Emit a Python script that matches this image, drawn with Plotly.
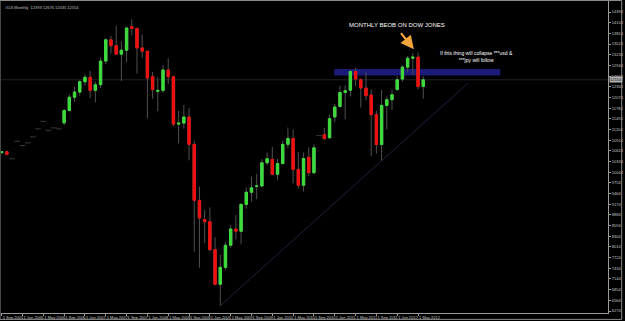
import pandas as pd
import plotly.graph_objects as go

# ---- data (Dow Jones monthly) ----
months = [p.strftime("%Y-%m") for p in pd.period_range("2005-09", "2012-06", freq="M")]

opens = [10575, 10600, 10408, 10884, 10768, 10841, 11003, 11220, 11425, 11182,
         11247, 11220, 11385, 11720, 12081, 12221, 12500, 12622, 12268, 12420,
         13062, 13640, 13480, 13250, 13358, 14000, 13950, 13420, 13330, 12644,
         12240, 12266, 12820, 12638, 11350, 11378, 11544, 10800, 9280, 8760,
         8700, 7940, 7000, 7460, 8060, 8500, 8440, 9170, 9500, 9660,
         9670, 10300, 10390, 9990, 10280, 10800, 10960, 10120, 9690, 10450,
         10030, 11038, 11065, 10980, 11545, 11830, 12210, 12270, 12779, 12554,
         12330, 12140, 11607, 10795, 11858, 12013, 12290, 12573, 12897, 13141,
         13170, 12375]
highs = [10620, 10630, 10408, 10884, 10768, 10841, 11003, 11220, 11425, 11182,
         11247, 11220, 11760, 12160, 12361, 12550, 12700, 12795, 12500, 13162,
         13680, 13750, 14022, 13600, 14000, 14198, 13960, 13780, 13340, 12767,
         12622, 12950, 13136, 12660, 11713, 11867, 11790, 10900, 9654, 9026,
         9088, 8280, 7800, 8150, 8600, 8880, 9200, 9630, 9920, 10000,
         10400, 10580, 10730, 10400, 10900, 11258, 11205, 10595, 10580, 10720,
         10800, 11038, 11250, 11600, 11900, 12390, 12400, 12830, 12876, 12600,
         12753, 12290, 11720, 12280, 12100, 12290, 12650, 12950, 13200, 13277,
         13300, 12650]
lows = [10540, 10500, 10408, 10884, 10768, 10841, 11003, 11220, 11425, 11182,
        11247, 11220, 11320, 11690, 11956, 12120, 12400, 12050, 11940, 12330,
        12980, 13266, 13230, 12518, 13029, 13760, 12725, 13150, 11500, 12035,
        11700, 12200, 12442, 11288, 10827, 11221, 10365, 7882, 7449, 8118,
        7900, 6970, 6420, 7400, 7990, 8220, 8090, 9050, 9250, 9310,
        9640, 10230, 9950, 9835, 10250, 10700, 9740, 9600, 9520, 9940,
        9990, 11038, 10930, 10950, 11400, 11800, 11480, 12100, 12380, 11800,
        12000, 10480, 10550, 10360, 11200, 11735, 12250, 12500, 12750, 12690,
        12300, 12035]
closes = [10600, 10530, 10408, 10884, 10768, 10841, 11003, 11220, 11425, 11182,
          11247, 11220, 11720, 12081, 12221, 12500, 12622, 12268, 12420, 13062,
          13640, 13480, 13250, 13358, 13960, 13950, 13420, 13330, 12600, 12284,
          12266, 12820, 12638, 11350, 11378, 11544, 10800, 9280, 8800, 8700,
          7940, 7000, 7460, 8060, 8500, 8440, 9170, 9500, 9620, 9670,
          10300, 10410, 9990, 10280, 10800, 10960, 10120, 9690, 10415, 10030,
          10705, 11038, 10957, 11498, 11815, 12210, 12256, 12779, 12573, 12330,
          12121, 11607, 10795, 11858, 12013, 12148, 12554, 12897, 13141, 13170,
          12375, 12554]

y_ticks = [6274 + 290 * k for k in range(29)]
x_tick_idx = list(range(0, len(months), 4))
x_tick_labels = [pd.Period(months[i]).strftime("1 %b %Y") for i in x_tick_idx]

current_price = 12554
zone_low, zone_high = 12671, 12844
zone_x = [63.9, 95.8]
trend_x = [42, 89.7]
trend_y = [6420, 12473]

# ---- split real candles / flat (missing) bars ----
flat = [o == h == l == c for o, h, l, c in zip(opens, highs, lows, closes)]
cx = [m for m, f in zip(months, flat) if not f]
co = [v for v, f in zip(opens, flat) if not f]
ch = [v for v, f in zip(highs, flat) if not f]
cl = [v for v, f in zip(lows, flat) if not f]
cc = [v for v, f in zip(closes, flat) if not f]
fx = [m for m, f in zip(months, flat) if f]
fy = [v for v, f in zip(closes, flat) if f]

GREEN = "#3ddc3d"
RED = "#f01010"
WICK = "#505050"

fig = go.Figure()
# wicks
fig.add_trace(go.Candlestick(
    x=cx, open=co, high=ch, low=cl, close=cc, whiskerwidth=0,
    increasing=dict(line=dict(color=WICK, width=1), fillcolor="rgba(0,0,0,0)"),
    decreasing=dict(line=dict(color=WICK, width=1), fillcolor="rgba(0,0,0,0)"),
    hoverinfo="skip", showlegend=False))
# bodies
fig.add_trace(go.Candlestick(
    x=cx, open=co, close=cc,
    high=[max(o, c) for o, c in zip(co, cc)], low=[min(o, c) for o, c in zip(co, cc)],
    whiskerwidth=0,
    increasing=dict(line=dict(color=GREEN, width=1), fillcolor=GREEN),
    decreasing=dict(line=dict(color=RED, width=1), fillcolor=RED),
    showlegend=False))
# flat bars
fig.add_trace(go.Scatter(
    x=fx, y=fy, mode="markers",
    marker=dict(symbol="line-ew", size=4, line=dict(color="#3a3a3a", width=1)),
    showlegend=False, hoverinfo="skip"))

fig.update_layout(
    width=625, height=321,
    margin=dict(l=1, r=14, t=1, b=7),
    paper_bgcolor="black", plot_bgcolor="black",
    showlegend=False,
    boxgap=0.35,
    font=dict(family="Liberation Sans, Arial, sans-serif", color="#c8c8c8"),
    xaxis=dict(type="category", categoryorder="array", categoryarray=months,
               range=[-0.13, 116.5], rangeslider=dict(visible=False),
               tickmode="array", tickvals=[months[i] for i in x_tick_idx], ticktext=x_tick_labels,
               tickangle=0, ticks="outside", ticklen=2, tickcolor="#9a9a9a",
               ticklabelposition="outside right",
               tickfont=dict(size=4, color="#c8c8c8"),
               showgrid=False, zeroline=False, showline=True, linecolor="#9a9a9a", linewidth=1),
    yaxis=dict(side="right", range=[6220, 14694],
               tickmode="array", tickvals=y_ticks, ticktext=[str(v) for v in y_ticks],
               ticks="outside", ticklen=2, tickcolor="#9a9a9a",
               tickfont=dict(size=4, color="#c8c8c8"),
               showgrid=False, zeroline=False, showline=True, linecolor="#9a9a9a", linewidth=1),
)

# zone rectangle
fig.add_shape(type="rect", xref="x", yref="y", x0=zone_x[0], x1=zone_x[1],
              y0=zone_low, y1=zone_high, fillcolor="#1b1b7a", line=dict(width=0), layer="below")
# current price line
fig.add_shape(type="line", xref="paper", yref="y", x0=0, x1=1, y0=current_price, y1=current_price,
              line=dict(color="#242424", width=1), layer="below")
# trend line
fig.add_shape(type="line", xref="x", yref="y", x0=trend_x[0], x1=trend_x[1],
              y0=trend_y[0], y1=trend_y[1], line=dict(color="#20203e", width=1), layer="below")

# frame
fig.add_shape(type="rect", xref="paper", yref="paper", x0=-0.0016, x1=1.0225, y0=-0.0205, y1=1.0016,
              line=dict(color="#8a8a8a", width=1), fillcolor="rgba(0,0,0,0)")

# annotations
fig.add_annotation(x=79.2, y=13385, ax=76.5, ay=13862, axref="x", ayref="y", xref="x", yref="y",
                   text="", showarrow=True, arrowhead=2, arrowsize=1.2, arrowwidth=2.2,
                   arrowcolor="#f2a53a")
fig.add_annotation(x=76.0, y=14040, xref="x", yref="y", text="MONTHLY BEOB ON DOW JONES",
                   showarrow=False, font=dict(size=6, color="white"))
fig.add_annotation(x=91.3, y=13177, xref="x", yref="y",
                   text="If this thing will collapse ***usd &<br>***jpy will follow",
                   showarrow=False, font=dict(size=5, color="white"))
fig.add_annotation(x=0.004, y=0.995, xref="paper", yref="paper", xanchor="left", yanchor="top",
                   text="#DJI,Monthly  12393 12676 12035 12554", showarrow=False,
                   font=dict(size=4, color="#c0c0c0"))
fig.add_annotation(x=1.0, y=current_price, xref="paper", yref="y", xanchor="left", yanchor="middle",
                   text=str(current_price), showarrow=False, bgcolor="#b4b4b4",
                   font=dict(size=4, color="black"), borderpad=0, xshift=1)

fig.write_html("out.html")
